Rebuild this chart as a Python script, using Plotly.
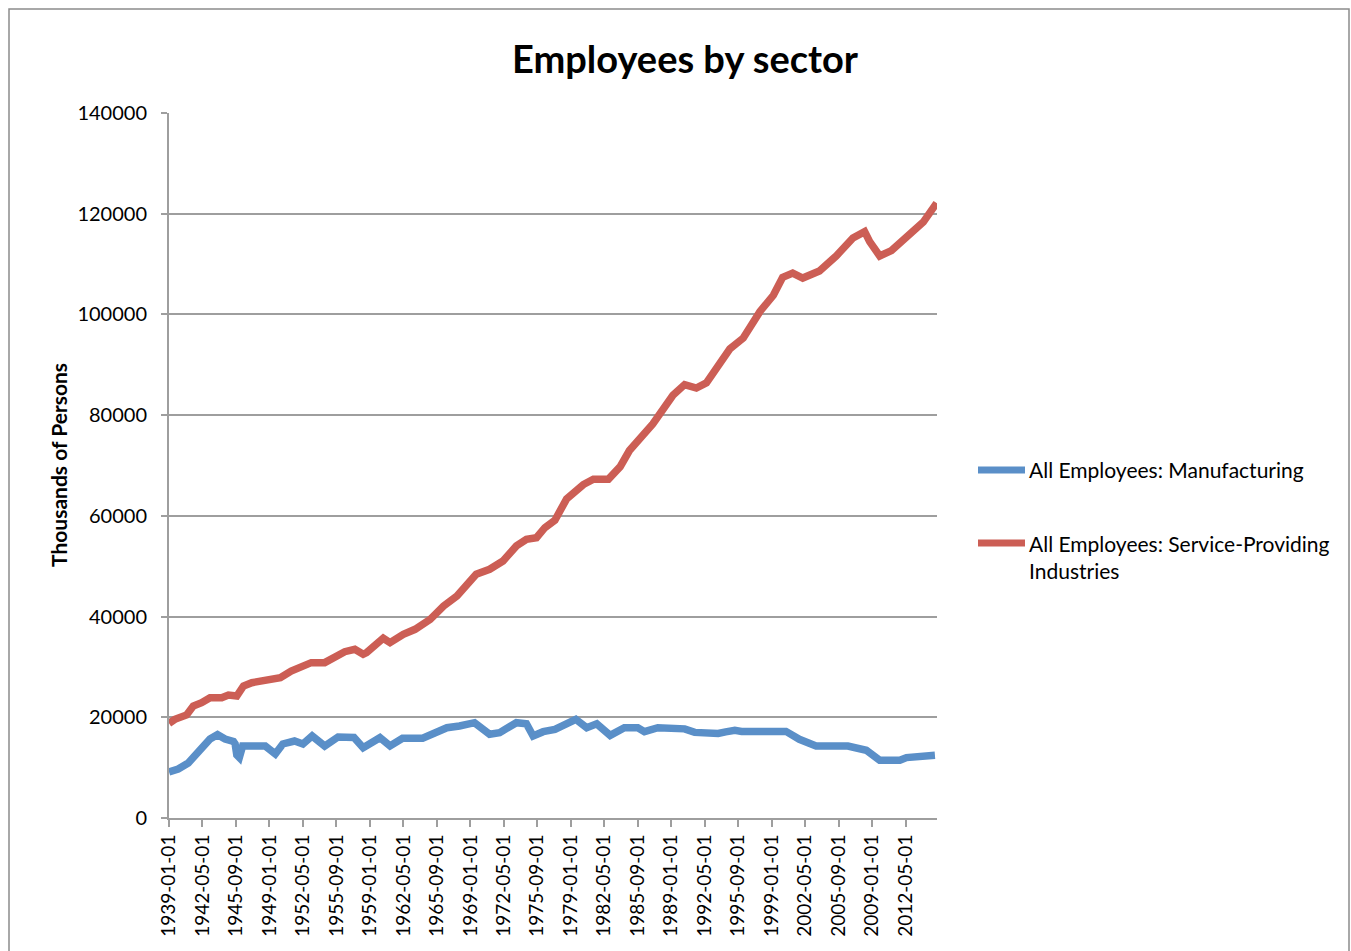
import plotly.graph_objects as go

# Monthly employment readings (thousands of persons)
manuf_dates = [
    "1939-01-01", "1939-12-01", "1940-12-01", "1941-10-01", "1942-06-01", "1943-02-01",
    "1943-11-01", "1944-08-01", "1945-06-01", "1945-08-01", "1945-10-01", "1946-01-01",
    "1946-05-01", "1948-08-01", "1949-08-01", "1950-05-01", "1951-07-01", "1952-05-01",
    "1953-04-01", "1954-07-01", "1955-11-01", "1956-09-01", "1957-06-01", "1958-05-01",
    "1960-01-01", "1961-01-01", "1962-04-01", "1964-04-01", "1966-09-01", "1967-12-01",
    "1969-06-01", "1970-12-01", "1971-12-01", "1973-08-01", "1974-08-01", "1975-04-01",
    "1976-04-01", "1977-06-01", "1978-06-01", "1979-07-01", "1980-08-01", "1981-08-01",
    "1982-12-01", "1984-05-01", "1985-09-01", "1986-05-01", "1987-09-01", "1990-05-01",
    "1991-05-01", "1992-09-01", "1993-09-01", "1994-06-01", "1995-05-01", "1996-01-01",
    "1997-05-01", "2000-06-01", "2001-10-01", "2003-06-01", "2006-08-01", "2008-06-01",
    "2009-10-01", "2011-10-01", "2012-06-01", "2014-06-01", "2015-04-01",
]
manuf_values = [
    9140, 9730, 10920, 12710, 13900, 15690,
    16550, 15690, 15200, 14700, 12500, 12000,
    14300, 14300, 12710, 14700, 15290, 14700,
    16290, 14300, 16090, 16090, 16000, 13960,
    15950, 14300, 15830, 15830, 17930, 18270,
    18930, 16620, 16940, 18930, 18730, 16290,
    17140, 17600, 18600, 19600, 17930, 18700,
    16400, 17930, 17930, 17140, 17930, 17700,
    17000, 16800, 16800, 17100, 17400, 17200,
    17300, 17200, 15630, 14300, 14300, 13440,
    11460, 11460, 12000, 12110, 12450,
]

service_dates = [
    "1939-01-01", "1939-08-01", "1940-10-01", "1941-06-01", "1942-04-01", "1943-02-01",
    "1944-04-01", "1944-12-01", "1945-10-01", "1946-06-01", "1947-04-01", "1948-04-01",
    "1949-04-01", "1950-02-01", "1951-03-01", "1952-03-01", "1953-03-01", "1954-07-01",
    "1955-07-01", "1956-07-01", "1957-07-01", "1958-05-01", "1958-09-01", "1959-07-01",
    "1960-05-01", "1961-01-01", "1962-05-01", "1963-07-01", "1965-01-01", "1966-05-01",
    "1967-09-01", "1969-08-01", "1970-12-01", "1972-04-01", "1973-08-01", "1974-08-01",
    "1975-08-01", "1976-06-01", "1977-06-01", "1978-08-01", "1980-04-01", "1981-04-01",
    "1982-10-01", "1983-12-01", "1984-11-01", "1987-03-01", "1989-03-01", "1990-05-01",
    "1991-07-01", "1992-07-01", "1994-11-01", "1996-03-01", "1997-11-01", "1999-03-01",
    "2000-02-01", "2001-02-01", "2002-02-01", "2003-10-01", "2005-06-01", "2007-02-01",
    "2008-04-01", "2008-10-01", "2009-10-01", "2010-12-01", "2014-02-01", "2015-06-01",
]
service_values = [
    18800, 19600, 20460, 22240, 22900, 23890,
    23890, 24430, 24230, 26220, 26870, 27210,
    27550, 27860, 29190, 30190, 30850, 30850,
    31840, 33030, 33500, 32510, 32830, 34500,
    35690, 34820, 36480, 37470, 39460, 42100,
    44090, 48400, 49390, 51040, 54020, 55350,
    55670, 57650, 59120, 63380, 66220, 67290,
    67290, 69770, 72970, 78270, 83950, 86070,
    85380, 86430, 93160, 95310, 100600, 103800,
    107360, 108210, 107220, 108630, 111610, 115170,
    116440, 114450, 111610, 112690, 118340, 122120,
]

tick_dates = [
    "1939-01-01", "1942-05-01", "1945-09-01", "1949-01-01", "1952-05-01", "1955-09-01",
    "1959-01-01", "1962-05-01", "1965-09-01", "1969-01-01", "1972-05-01", "1975-09-01",
    "1979-01-01", "1982-05-01", "1985-09-01", "1989-01-01", "1992-05-01", "1995-09-01",
    "1999-01-01", "2002-05-01", "2005-09-01", "2009-01-01", "2012-05-01",
]

series_names = ["All Employees: Manufacturing", "All Employees: Service-Providing Industries"]
BLUE = "#5A8FC8"
RED = "#CC5E55"
GRID = "#9E9E9E"
FONT = "Lato, 'Open Sans', sans-serif"

W, H = 1351, 951
L, R, T, B = 169, 937, 113, 818  # plot-area pixel edges


def px(x):
    return (x - L) / (R - L)


def py(y):
    return (B - y) / (B - T)


fig = go.Figure()
fig.add_trace(go.Scatter(x=manuf_dates, y=manuf_values, mode="lines", name=series_names[0],
                         line=dict(color=BLUE, width=7.5), showlegend=False))
fig.add_trace(go.Scatter(x=service_dates, y=service_values, mode="lines", name=series_names[1],
                         line=dict(color=RED, width=7.5), showlegend=False))

shapes = [
    # chart frame
    dict(type="rect", xref="paper", yref="paper", x0=px(9), x1=px(1349), y0=py(970), y1=py(9),
         line=dict(color="#8C8C8C", width=1.5), fillcolor="rgba(0,0,0,0)", layer="below"),
    # legend keys
    dict(type="line", xref="paper", yref="paper", x0=px(978), x1=px(1025), y0=py(470), y1=py(470),
         line=dict(color=BLUE, width=7)),
    dict(type="line", xref="paper", yref="paper", x0=px(978), x1=px(1025), y0=py(543), y1=py(543),
         line=dict(color=RED, width=7)),
]

annotations = [
    dict(text="<b>Thousands of Persons</b>", xref="paper", yref="paper", x=px(58), y=py(465),
         textangle=-90, showarrow=False, xanchor="center", yanchor="middle",
         font=dict(family=FONT, size=21, color="black")),
    dict(text=series_names[0], xref="paper", yref="paper", x=px(1027), y=py(470),
         showarrow=False, xanchor="left", yanchor="middle", align="left",
         font=dict(family=FONT, size=21, color="black")),
    dict(text="All Employees: Service-Providing<br>Industries", xref="paper", yref="paper",
         x=px(1027), y=py(529), showarrow=False, xanchor="left", yanchor="top", align="left",
         font=dict(family=FONT, size=21, color="black")),
]

fig.update_layout(
    width=W, height=H,
    margin=dict(l=L, r=W - R, t=T, b=H - B, pad=0),
    paper_bgcolor="white", plot_bgcolor="white",
    title=dict(text="<b>Employees by sector</b>", x=685 / W, y=1 - 60 / H,
               xanchor="center", yanchor="middle", xref="container", yref="container",
               font=dict(family=FONT, size=38, color="black")),
    shapes=shapes, annotations=annotations, showlegend=False,
    xaxis=dict(type="date", range=["1939-01-01", "2015-06-15"], showgrid=False,
               showline=True, linecolor=GRID, linewidth=2, mirror=False,
               ticks="outside", ticklen=7, tickwidth=2, tickcolor=GRID,
               tickmode="array", tickvals=tick_dates, ticktext=tick_dates, tickangle=-90,
               tickfont=dict(family=FONT, size=19, color="black")),
    yaxis=dict(range=[0, 140000], dtick=20000, tick0=0, showgrid=True, gridcolor=GRID,
               gridwidth=2, zeroline=False, showline=True, linecolor=GRID, linewidth=2,
               ticks="outside", ticklen=6, tickwidth=2, tickcolor=GRID,
               ticklabelstandoff=10, tickformat="d",
               tickfont=dict(family=FONT, size=20, color="black")),
)

fig.write_html("out.html")
